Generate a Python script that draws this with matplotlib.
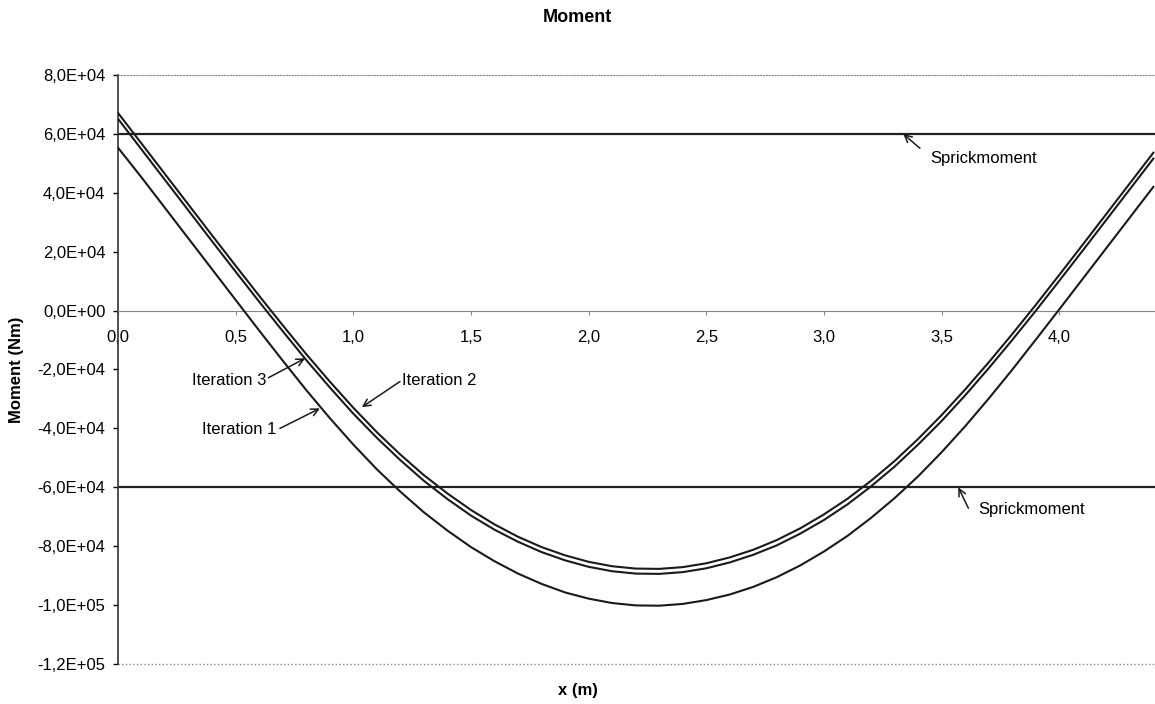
import numpy as np
import matplotlib
matplotlib.use('Agg')
import matplotlib.pyplot as plt
from matplotlib.ticker import FuncFormatter, MultipleLocator

# x position along the beam (m), 0.0 .. 4.4 every 0.1 m
x_pos = [0.0, 0.1, 0.2, 0.3, 0.4, 0.5, 0.6, 0.7, 0.8, 0.9,
         1.0, 1.1, 1.2, 1.3, 1.4, 1.5, 1.6, 1.7, 1.8, 1.9,
         2.0, 2.1, 2.2, 2.3, 2.4, 2.5, 2.6, 2.7, 2.8, 2.9,
         3.0, 3.1, 3.2, 3.3, 3.4, 3.5, 3.6, 3.7, 3.8, 3.9,
         4.0, 4.1, 4.2, 4.3, 4.4]

# moment (Nm)
iter1 = [55300, 45200, 34800, 24400, 14000, 3600, -6800, -17000, -27000, -36500,
         -45500, -53900, -61500, -68500, -74700, -80300, -85100, -89300, -92800, -95700,
         -97800, -99300, -100100, -100200, -99600, -98300, -96400, -93800, -90500, -86500,
         -81800, -76500, -70400, -63700, -56300, -48100, -39300, -29900, -20100, -9900,
         400, 10800, 21200, 31600, 42000]
iter2 = [67100, 56700, 46300, 35900, 25500, 15200, 5000, -5000, -14800, -24100,
         -33000, -41300, -48900, -55900, -62100, -67700, -72600, -76800, -80300, -83100,
         -85300, -86800, -87600, -87700, -87100, -85800, -83800, -81200, -77900, -73900,
         -69200, -63900, -57800, -51100, -43600, -35500, -26800, -17600, -8000, 1900,
         12100, 22400, 32800, 43200, 53600]
iter3 = [65100, 54700, 44300, 33900, 23500, 13200, 3000, -7000, -16800, -26100,
         -35000, -43200, -50800, -57800, -64000, -69600, -74400, -78500, -82000, -84800,
         -87000, -88500, -89300, -89400, -88800, -87500, -85500, -82900, -79700, -75700,
         -71100, -65800, -59700, -53000, -45500, -37500, -28800, -19600, -10000, -100,
         10100, 20400, 30800, 41200, 51600]

sprick = [60000, -60000]


def main():
    plt.rcParams['font.family'] = ['Liberation Sans', 'DejaVu Sans']
    fig = plt.figure(figsize=(11.55, 7.04), dpi=100)
    ax = fig.add_axes([0.1022, 0.0568, 0.8978, 0.8367])

    for m in sprick:
        ax.axhline(m, color='#222222', lw=1.6, zorder=2)
    for series in (iter1, iter2, iter3):
        ax.plot(x_pos, series, color='#1a1a1a', lw=1.5, zorder=3)

    ax.set_xlim(0, 4.407)
    ax.set_ylim(-120000, 80000)

    # axes look (excel style)
    ax.spines['right'].set_visible(False)
    ax.spines['top'].set_linestyle(':')
    ax.spines['top'].set_color('#888888')
    ax.spines['left'].set_color('#333333')
    ax.spines['left'].set_linewidth(1.2)
    ax.spines['bottom'].set_position(('data', 0))
    ax.spines['bottom'].set_color('#888888')
    ax.axhline(-120000, color='#888888', ls=':', lw=1, clip_on=False)

    ax.yaxis.set_major_locator(MultipleLocator(20000))
    ax.yaxis.set_major_formatter(FuncFormatter(lambda v, p: ('%.1E' % v).replace('.', ',')))
    ax.xaxis.set_major_locator(MultipleLocator(0.5))
    ax.xaxis.set_major_formatter(FuncFormatter(lambda v, p: ('%.1f' % v).replace('.', ',')))
    ax.tick_params(axis='y', direction='out', length=3.6, width=1, pad=5.5, labelsize=12)
    ax.tick_params(axis='x', direction='out', length=3, width=0.8, color='#888888',
                   pad=11, labelsize=12)

    # labels
    fig.text(0.5, 1 - 18 / 704., 'Moment', ha='center', va='center',
             fontsize=13, fontweight='bold')
    fig.text(0.5, 1 - 690 / 704., 'x (m)', ha='center', va='center',
             fontsize=12, fontweight='bold')
    fig.text(17 / 1155., 1 - 370 / 704., 'Moment (Nm)', ha='center', va='center',
             rotation=90, fontsize=12, fontweight='bold')

    arr = dict(arrowstyle='->', color='#1a1a1a', lw=1.1, shrinkA=0, shrinkB=0,
               mutation_scale=13)
    ax.annotate('', xy=(0.795, -16200), xytext=(0.639, -22800), arrowprops=arr)
    ax.text(0.632, -23700, 'Iteration 3', ha='right', va='center', fontsize=12)
    ax.annotate('', xy=(1.036, -32800), xytext=(1.198, -24100), arrowprops=arr)
    ax.text(1.206, -23600, 'Iteration 2', ha='left', va='center', fontsize=12)
    ax.annotate('', xy=(0.858, -33200), xytext=(0.688, -40000), arrowprops=arr)
    ax.text(0.674, -40500, 'Iteration 1', ha='right', va='center', fontsize=12)

    ax.annotate('', xy=(3.337, 60000), xytext=(3.408, 55100), arrowprops=arr)
    ax.text(3.451, 51700, 'Sprickmoment', ha='left', va='center', fontsize=12)
    ax.annotate('', xy=(3.571, -60000), xytext=(3.614, -67100), arrowprops=arr)
    ax.text(3.656, -67700, 'Sprickmoment', ha='left', va='center', fontsize=12)

    plt.savefig('out.png', dpi=100)
    plt.close()


if __name__ == '__main__':
    main()
